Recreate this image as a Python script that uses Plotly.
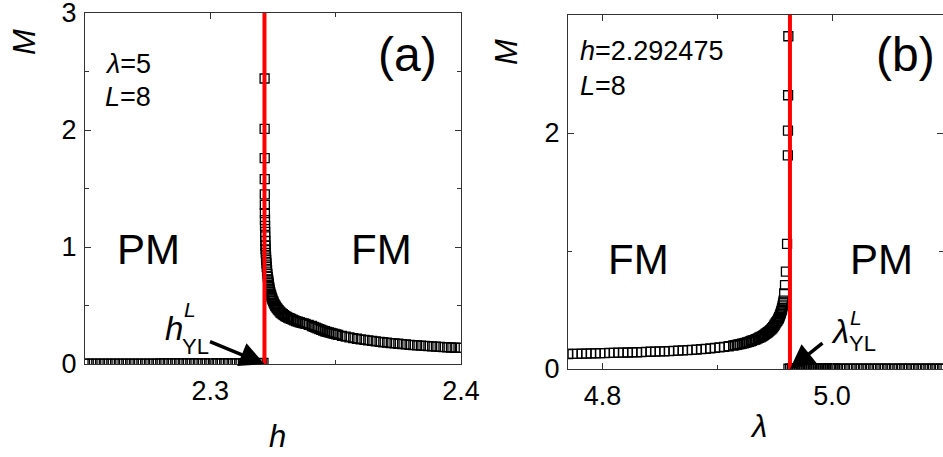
import plotly.graph_objects as go

FONT = "Liberation Sans, Arial, sans-serif"
W, H = 943, 457

# ---- panel (a): lambda=5, L=8, M vs h ----
hc_a = 2.3216
h_pm_a = [2.2500, 2.2515, 2.2530, 2.2545, 2.2560, 2.2575, 2.2590, 2.2605, 2.2620, 2.2635,
          2.2650, 2.2665, 2.2680, 2.2695, 2.2710, 2.2725, 2.2740, 2.2755, 2.2770, 2.2785,
          2.2800, 2.2815, 2.2830, 2.2845, 2.2860, 2.2875, 2.2890, 2.2905, 2.2920, 2.2935,
          2.2950, 2.2965, 2.2980, 2.2995, 2.3010, 2.3025, 2.3040, 2.3055, 2.3070, 2.3085,
          2.3100, 2.3115, 2.3130, 2.3145, 2.3160, 2.3175, 2.3190, 2.3205, 2.3212]
M_pm_a = [0.004, 0.004, 0.004, 0.004, 0.004, 0.004, 0.004, 0.004, 0.004, 0.004,
          0.004, 0.004, 0.004, 0.004, 0.004, 0.004, 0.004, 0.004, 0.004, 0.004,
          0.005, 0.005, 0.005, 0.005, 0.005, 0.005, 0.005, 0.005, 0.005, 0.005,
          0.005, 0.005, 0.005, 0.005, 0.005, 0.005, 0.006, 0.006, 0.006, 0.006,
          0.006, 0.006, 0.006, 0.007, 0.007, 0.007, 0.008, 0.008, 0.009]
h_fm_a = [2.32164, 2.32166, 2.32168, 2.32170, 2.32172, 2.32174, 2.32177, 2.32180, 2.32183, 2.32187,
          2.32191, 2.32196, 2.32201, 2.32207, 2.32214, 2.32222, 2.32231, 2.32241, 2.32252, 2.32264,
          2.32277, 2.32291, 2.32306, 2.32315, 2.32325, 2.32336, 2.32348, 2.32361, 2.32374, 2.32389,
          2.32404, 2.32422, 2.32440, 2.32460, 2.32482, 2.32505, 2.32530, 2.32557, 2.32585, 2.32616,
          2.32648, 2.32683, 2.32720, 2.32760, 2.32800, 2.32845, 2.32890, 2.32940, 2.32990, 2.33045,
          2.33100, 2.33160, 2.33220, 2.33285, 2.33350, 2.33420, 2.33490, 2.33565, 2.33640, 2.33720,
          2.33800, 2.33925, 2.34050, 2.34125, 2.34200, 2.34275, 2.34350, 2.34425, 2.34500, 2.34575,
          2.34650, 2.34725, 2.34800, 2.34875, 2.34950, 2.35025, 2.3510,
          2.3525, 2.3540, 2.3555, 2.3570, 2.3585, 2.3600, 2.3615, 2.3630, 2.3645, 2.3660,
          2.3675, 2.3690, 2.3705, 2.3720, 2.3735, 2.3750, 2.3765, 2.3780, 2.3795, 2.3810,
          2.3825, 2.3840, 2.3855, 2.3870, 2.3885, 2.3900, 2.3915, 2.3930, 2.3945, 2.3960,
          2.3975, 2.3990, 2.4000]
M_fm_a = [2.44, 2.01, 1.76, 1.58, 1.45, 1.36, 1.29, 1.23, 1.18, 1.13,
          1.09, 1.05, 1.01, 0.98, 0.95, 0.92, 0.89, 0.86, 0.83, 0.80,
          0.77, 0.745, 0.72, 0.705, 0.69, 0.675, 0.66, 0.645, 0.63, 0.615,
          0.60, 0.588, 0.575, 0.562, 0.55, 0.537, 0.525, 0.512, 0.50, 0.49,
          0.48, 0.47, 0.46, 0.45, 0.44, 0.432, 0.425, 0.417, 0.41, 0.403,
          0.397, 0.391, 0.385, 0.379, 0.373, 0.367, 0.362, 0.357, 0.352, 0.347,
          0.343, 0.334, 0.325, 0.318, 0.311, 0.305, 0.298, 0.292, 0.286, 0.280,
          0.275, 0.270, 0.266, 0.261, 0.257, 0.253, 0.249,
          0.241, 0.234, 0.228, 0.222, 0.216, 0.211, 0.206, 0.202, 0.197, 0.193,
          0.189, 0.186, 0.182, 0.179, 0.176, 0.173, 0.170, 0.167, 0.164, 0.162,
          0.159, 0.157, 0.155, 0.153, 0.151, 0.149, 0.147, 0.145, 0.143, 0.141,
          0.139, 0.138, 0.137]

# ---- panel (b): h=2.292475, L=8, M vs lambda ----
lc_b = 4.9633
l_fm_b = [4.770, 4.774, 4.778, 4.782, 4.786, 4.790, 4.794, 4.798, 4.802, 4.806,
          4.810, 4.814, 4.818, 4.822, 4.826, 4.830, 4.834, 4.838, 4.842, 4.846,
          4.850, 4.854, 4.858, 4.862, 4.866, 4.870, 4.874, 4.878, 4.882, 4.886,
          4.890, 4.894, 4.898, 4.902, 4.906, 4.910, 4.914,
          4.9155, 4.917, 4.9185, 4.920, 4.9215, 4.923, 4.9245, 4.926, 4.9275, 4.929,
          4.930, 4.9315, 4.933, 4.934, 4.9353, 4.9365, 4.9378, 4.939, 4.940, 4.941,
          4.942, 4.943, 4.944, 4.945, 4.946, 4.947, 4.9479, 4.9487, 4.9494, 4.950,
          4.9508, 4.9515, 4.9523, 4.953, 4.9536, 4.954, 4.9545, 4.955, 4.9554, 4.9558,
          4.9562, 4.9565, 4.9569, 4.9572, 4.9575, 4.9578, 4.9583, 4.9590, 4.9598, 4.9608,
          4.9615, 4.9616, 4.9617, 4.9619]
M_fm_b = [0.127, 0.128, 0.129, 0.130, 0.131, 0.132, 0.133, 0.134, 0.135, 0.136,
          0.137, 0.138, 0.139, 0.140, 0.141, 0.142, 0.143, 0.145, 0.146, 0.147,
          0.149, 0.150, 0.152, 0.154, 0.156, 0.158, 0.160, 0.162, 0.165, 0.168,
          0.171, 0.175, 0.179, 0.183, 0.188, 0.193, 0.199,
          0.202, 0.205, 0.208, 0.211, 0.2145, 0.218, 0.222, 0.226, 0.2305, 0.235,
          0.2395, 0.244, 0.249, 0.254, 0.2595, 0.265, 0.271, 0.277, 0.2835, 0.290,
          0.297, 0.304, 0.3115, 0.319, 0.3275, 0.336, 0.3455, 0.355, 0.365, 0.375,
          0.386, 0.397, 0.408, 0.420, 0.430, 0.440, 0.452, 0.465, 0.477, 0.490,
          0.502, 0.515, 0.530, 0.545, 0.562, 0.580, 0.640, 0.710, 0.825, 1.06,
          1.81, 2.02, 2.32, 2.82]
l_pm_b = [4.9620, 4.9635, 4.9650, 4.9665, 4.9680, 4.9695, 4.9710, 4.9725, 4.9740, 4.9755,
          4.9770, 4.9785, 4.9800, 4.9815, 4.9830, 4.9845, 4.9860, 4.9875, 4.9890, 4.9905,
          4.9920, 4.9935, 4.9950, 4.9965, 4.9980, 4.9995, 5.0010, 5.0025, 5.0040, 5.0070,
          5.0100, 5.0130, 5.0160, 5.0190, 5.0220, 5.0250, 5.0280, 5.0310, 5.0340, 5.0370,
          5.0400, 5.0430, 5.0460, 5.0490, 5.0520, 5.0550, 5.0580, 5.0610, 5.0640, 5.0670,
          5.0700, 5.0730, 5.0760, 5.0790, 5.0820, 5.0850, 5.0880, 5.0910, 5.0940, 5.0970]
M_pm_b = [0.002, 0.002, 0.002, 0.002, 0.002, 0.002, 0.002, 0.002, 0.002, 0.002,
          0.002, 0.002, 0.002, 0.002, 0.002, 0.002, 0.002, 0.002, 0.002, 0.002,
          0.002, 0.002, 0.002, 0.002, 0.002, 0.002, 0.002, 0.002, 0.002, 0.002,
          0.002, 0.002, 0.002, 0.002, 0.002, 0.002, 0.002, 0.002, 0.002, 0.002,
          0.002, 0.002, 0.002, 0.002, 0.002, 0.002, 0.002, 0.002, 0.002, 0.002,
          0.002, 0.002, 0.002, 0.002, 0.002, 0.002, 0.002, 0.002, 0.002, 0.002]


def px(x):
    return x / W


def py(y):
    return 1 - y / H


sq = dict(symbol="square-open", size=9, color="black", line=dict(width=1.3, color="black"))

fig = go.Figure()
fig.add_trace(go.Scatter(x=h_pm_a, y=M_pm_a, mode="markers", marker=sq, xaxis="x", yaxis="y"))
fig.add_trace(go.Scatter(x=h_fm_a, y=M_fm_a, mode="markers", marker=sq, xaxis="x", yaxis="y"))
fig.add_trace(go.Scatter(x=[hc_a, hc_a], y=[0, 3], mode="lines",
                         line=dict(color="#ff0000", width=4), xaxis="x", yaxis="y"))
fig.add_trace(go.Scatter(x=l_fm_b, y=M_fm_b, mode="markers", marker=sq, xaxis="x2", yaxis="y2"))
fig.add_trace(go.Scatter(x=l_pm_b, y=M_pm_b, mode="markers", marker=sq, xaxis="x2", yaxis="y2"))
fig.add_trace(go.Scatter(x=[lc_b, lc_b], y=[0, 3], mode="lines",
                         line=dict(color="#ff0000", width=4), xaxis="x2", yaxis="y2"))

ax_style = dict(showline=True, linecolor="#333", linewidth=1, mirror="ticks",
                ticks="inside", ticklen=6, tickwidth=1, tickcolor="#333",
                showgrid=False, zeroline=False, ticklabeloverflow="allow",
                automargin=False,
                tickfont=dict(family=FONT, size=27, color="black"))
minor = dict(ticks="inside", ticklen=4, tickcolor="#333", showgrid=False)

fig.update_layout(
    width=W, height=H, margin=dict(l=0, r=0, t=0, b=0, pad=0),
    paper_bgcolor="white", plot_bgcolor="white", showlegend=False,
    font=dict(family=FONT, color="black"),
    xaxis=dict(ax_style, domain=[px(85), px(461)], range=[2.25, 2.4], anchor="y",
               tickvals=[2.3, 2.4], ticktext=["2.3", "2.4"], ticklabelstandoff=3,
               minor=dict(minor, tick0=2.25, dtick=0.05)),
    yaxis=dict(ax_style, domain=[py(364), py(13)], range=[0, 3], anchor="x",
               tickvals=[0, 1, 2, 3], ticklabelstandoff=2,
               minor=dict(minor, tick0=0, dtick=0.5)),
    xaxis2=dict(ax_style, domain=[px(568), 1.0], range=[4.77, 5.0966], anchor="y2",
                tickvals=[4.8, 5.0], ticktext=["4.8", "5.0"], ticklabelstandoff=3,
                minor=dict(minor, tick0=4.8, dtick=0.1)),
    yaxis2=dict(ax_style, domain=[py(369), py(15)], range=[0, 3], anchor="x2",
                tickvals=[0, 2], ticklabelstandoff=2,
                minor=dict(minor, tick0=0, dtick=1)),
)


def label(x, y, text, size, angle=0):
    fig.add_annotation(x=px(x), y=py(y), xref="paper", yref="paper", text=text,
                       showarrow=False, xanchor="center", yanchor="middle",
                       textangle=angle, font=dict(family=FONT, size=size, color="black"))


def label_left(x, y, text, size):
    fig.add_annotation(x=px(x), y=py(y), xref="paper", yref="paper", text=text,
                       showarrow=False, xanchor="left", yanchor="middle",
                       font=dict(family=FONT, size=size, color="black"))


# axis titles
label(25, 42, "<i>M</i>", 31, -90)
label(277, 436, "<i>h</i>", 31)
label(506, 52, "<i>M</i>", 31, -90)
label(758, 426, "<i>λ</i>", 31)

# panel tags and phases
label(407, 55, "(a)", 48)
label(905, 54, "(b)", 48)
label(148, 249, "PM", 42)
label(381, 249, "FM", 42)
label(638, 259, "FM", 42)
label(881, 259, "PM", 42)

# parameters
label_left(103, 64, "<i>λ</i>=5", 27)
label_left(103, 97, "<i>L</i>=8", 27)
label_left(578, 51, "<i>h</i>=2.292475", 27)
label_left(578, 86, "<i>L</i>=8", 27)

# h^L_YL and lambda^L_YL
label(174, 328, "<i>h</i>", 33)
label(190, 309, "<i>L</i>", 21)
label(195, 346, "YL", 22)
label(840, 331, "<i>λ</i>", 33)
label(856, 317, "<i>L</i>", 21)
label(862, 343, "YL", 22)

# arrows
fig.add_annotation(x=hc_a, y=0, xref="x", yref="y", ax=-56, ay=-23, text="",
                   showarrow=True, arrowhead=2, arrowsize=1.4, arrowwidth=3.5, arrowcolor="black")
fig.add_annotation(x=lc_b, y=0, xref="x2", yref="y2", ax=34, ay=-27, text="",
                   showarrow=True, arrowhead=2, arrowsize=1.4, arrowwidth=3.5, arrowcolor="black")

# the page body has a default 8px margin; drop it so the figure fills the window
fig.write_html("out.html", config={"displayModeBar": False},
               post_script="document.body.style.margin='0';")
